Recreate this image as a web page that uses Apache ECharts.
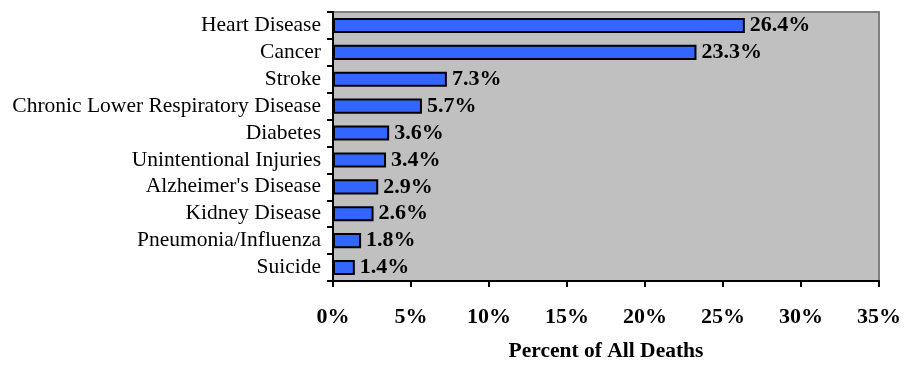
<!DOCTYPE html>
<html>
<head>
<meta charset="utf-8">
<script src="https://cdn.jsdelivr.net/npm/echarts@6/dist/echarts.min.js"></script>
<style>
html,body{margin:0;padding:0;background:#fff;}
#chart{width:904px;height:367px;}
</style>
</head>
<body>
<div id="chart"></div>
<script>
// Leading causes of death, top to bottom
const causes = ['Heart Disease', 'Cancer', 'Stroke', 'Chronic Lower Respiratory Disease', 'Diabetes',
  'Unintentional Injuries', "Alzheimer's Disease", 'Kidney Disease', 'Pneumonia/Influenza', 'Suicide'];
const percentOfDeaths = [26.4, 23.3, 7.3, 5.7, 3.6, 3.4, 2.9, 2.6, 1.8, 1.4];
const xAxisTitle = 'Percent of All Deaths';

const font = '"Liberation Serif", "Times New Roman", serif';
const chart = echarts.init(document.getElementById('chart'));
chart.setOption({
  animation: false,
  grid: { left: 333, right: 23, top: 12, bottom: 79, show: true, backgroundColor: '#C0C0C0', borderColor: '#808080', borderWidth: 2 },
  xAxis: {
    type: 'value', min: 0, max: 35, interval: 5,
    axisLine: { show: true, lineStyle: { color: '#000', width: 2 } },
    axisTick: { show: true, length: 6, lineStyle: { color: '#000', width: 2 } },
    splitLine: { show: false },
    axisLabel: { formatter: '{value}%', fontFamily: font, fontSize: 22, fontWeight: 'bold', color: '#000', margin: 25 },
    name: xAxisTitle, nameLocation: 'middle', nameGap: 59,
    nameTextStyle: { fontFamily: font, fontSize: 21.5, fontWeight: 'bold', color: '#000' }
  },
  yAxis: {
    type: 'category', inverse: true, data: causes,
    axisLine: { show: true, lineStyle: { color: '#000', width: 2 } },
    axisTick: { show: true, length: 6, lineStyle: { color: '#000', width: 2 } },
    axisLabel: { interval: 0, fontFamily: font, fontSize: 21.5, color: '#000', margin: 12 }
  },
  series: [{
    type: 'bar', data: percentOfDeaths, barWidth: '56%',
    itemStyle: { color: '#3366FF', borderColor: '#000', borderWidth: 2 },
    label: { show: true, position: 'right', distance: 5, formatter: p => p.value.toFixed(1) + '%',
      fontFamily: font, fontSize: 22, fontWeight: 'bold', color: '#000' }
  }]
});
</script>
</body>
</html>
